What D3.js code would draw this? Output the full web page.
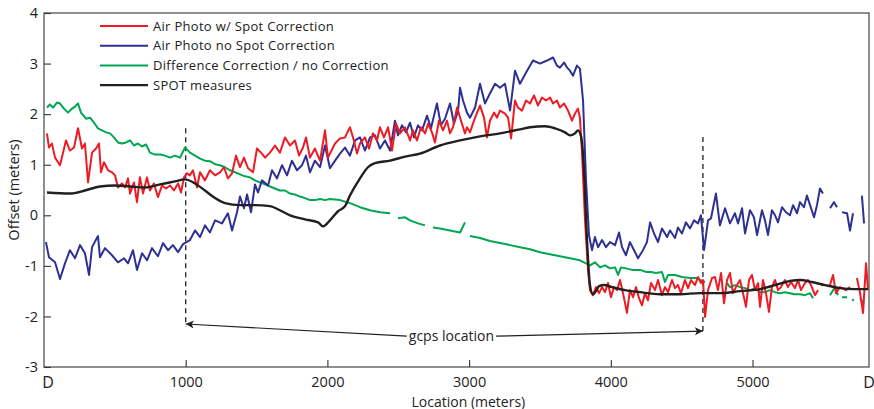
<!DOCTYPE html>
<html>
<head>
<meta charset="utf-8">
<script src="https://cdn.jsdelivr.net/npm/d3@7"></script>
<style>
  html, body { margin: 0; padding: 0; background: #fff; }
  svg { display: block; font-family: 'Open Sans', sans-serif; }
</style>
</head>
<body>
<div id="chart"></div>
<script>
// offset profile along the line (location in meters, offset in meters), null = gap
const xMax = 5822;
const yTicks = [-3, -2, -1, 0, 1, 2, 3, 4];
const xTicks = [1000, 2000, 3000, 4000, 5000];
const endLabels = [[0, 'D'], [xMax, 'D']];
const seriesNames = ['Air Photo w/ Spot Correction', 'Air Photo no Spot Correction',
  'Difference Correction / no Correction', 'SPOT measures'];
const gcpLocations = [1000, 4650];

const redPts = [[21,1.62],[35,1.34],[56,1.42],[78,1.14],[113,0.99],[155,1.48],[183,1.28],[212,1.34],[240,1.72],[268,1.32],[289,1.42],[311,0.65],[339,1.24],[367,1.32],[388,1.42],[402,0.85],[423,1.05],[452,0.89],[480,0.85],[501,0.79],[522,0.55],[550,0.63],[572,0.55],[593,0.73],[607,0.43],[635,0.65],[656,0.26],[677,0.75],[699,0.43],[727,0.75],[748,0.49],[776,0.63],[804,0.36],[833,0.59],[861,0.53],[889,0.59],[917,0.49],[946,0.63],[967,0.45],[988,0.75],[1009,0.83],[1030,0.79],[1051,0.89],[1080,0.55],[1101,0.85],[1136,0.69],[1171,0.89],[1207,0.79],[1242,0.85],[1270,0.95],[1298,0.73],[1327,0.83],[1355,1.18],[1383,0.95],[1411,1.14],[1440,0.93],[1475,0.85],[1503,1.32],[1538,1.22],[1560,1.14],[1595,1.24],[1630,1.38],[1665,1.24],[1701,1.54],[1736,1.38],[1771,1.48],[1800,1.18],[1828,1.34],[1849,1.54],[1877,1.14],[1912,1.32],[1948,1.08],[1983,1.68],[2004,1.14],[2018,1.22],[2054,1.42],[2089,1.52],[2124,1.54],[2159,1.74],[2181,1.54],[2209,1.22],[2230,1.42],[2265,1.54],[2294,1.32],[2322,1.62],[2350,1.48],[2371,1.74],[2399,1.54],[2428,1.74],[2456,1.28],[2484,1.81],[2512,1.62],[2548,1.74],[2583,1.48],[2604,1.68],[2632,1.48],[2660,1.74],[2689,1.62],[2710,1.81],[2738,1.64],[2759,1.44],[2787,1.87],[2816,1.68],[2844,1.87],[2865,1.62],[2886,1.74],[2915,2.13],[2943,1.87],[2971,1.62],[2985,1.74],[3006,1.64],[3042,1.93],[3077,2.17],[3105,1.93],[3126,1.54],[3147,1.87],[3176,2.03],[3197,1.93],[3218,2.07],[3253,2.01],[3275,1.93],[3296,1.52],[3324,2.27],[3345,2.13],[3373,2.07],[3402,2.27],[3430,2.21],[3458,2.37],[3486,2.17],[3514,2.33],[3543,2.27],[3571,2.33],[3592,2.21],[3620,2.27],[3641,2.13],[3670,2.21],[3698,2.07],[3726,1.87],[3747,2.01],[3768,2.11],[3782,1.93],[3796,1.28],[3818,-0.1],[3839,-1.08],[3853,-1.48],[3874,-1.58],[3895,-1.42],[3917,-1.54],[3938,-1.42],[3959,-1.52],[3980,-1.34],[4001,-1.62],[4022,-1.42],[4044,-1.48],[4065,-1.28],[4086,-1.54],[4114,-1.93],[4135,-1.48],[4157,-1.62],[4178,-1.42],[4199,-1.64],[4220,-1.78],[4241,-1.54],[4262,-1.68],[4284,-1.34],[4312,-1.48],[4333,-1.28],[4361,-1.58],[4382,-1.42],[4404,-1.52],[4432,-1.28],[4453,-1.44],[4474,-1.38],[4495,-1.54],[4523,-1.28],[4545,-1.44],[4566,-1.28],[4594,-1.38],[4615,-1.22],[4636,-1.34],[4651,-1.28],[4665,-2.01],[4686,-1.48],[4714,-1.24],[4735,-1.22],[4756,-1.48],[4778,-1.14],[4799,-1.74],[4820,-1.28],[4841,-1.14],[4862,-1.54],[4883,-1.42],[4912,-1.28],[4933,-1.54],[4954,-1.81],[4975,-1.28],[4996,-1.18],[5018,-1.48],[5039,-1.34],[5053,-1.81],[5074,-1.28],[5095,-1.54],[5116,-1.91],[5137,-1.42],[5159,-1.28],[5180,-1.48],[5201,-1.42],[5229,-1.28],[5250,-1.42],[5272,-1.32],[5300,-1.44],[5321,-1.28],[5342,-1.48],[5370,-1.34],[5391,-1.28],[5413,-1.38],[5441,-1.58],[5462,-1.48],null,[5488,-1.38],[5496,-1.40],null,[5547,-1.38],[5568,-1.18],[5589,-1.54],[5617,-1.42],[5660,-1.48],[5688,-1.42],null,[5737,-1.24],[5759,-1.54],[5780,-1.93],[5801,-0.95],[5815,-1.48]];

const bluePts = [[14,-0.53],[35,-0.83],[78,-0.93],[113,-1.26],[148,-0.95],[183,-0.69],[219,-0.85],[254,-0.59],[289,-0.75],[318,-1.18],[339,-0.63],[381,-0.41],[395,-0.83],[430,-0.65],[480,-0.79],[522,-0.93],[565,-0.85],[593,-0.95],[628,-0.69],[656,-1.08],[692,-0.75],[727,-0.89],[762,-0.65],[804,-0.81],[840,-0.55],[875,-0.69],[910,-0.59],[946,-0.73],[981,-0.57],[1030,-0.49],[1066,-0.3],[1101,-0.43],[1136,-0.2],[1171,-0.34],[1207,-0.1],[1256,-0.16],[1298,0.04],[1327,-0.3],[1362,0.06],[1383,0.37],[1411,0.14],[1433,0.41],[1461,0.06],[1489,0.61],[1510,0.45],[1538,0.69],[1581,0.59],[1609,0.89],[1644,0.73],[1680,0.99],[1715,0.79],[1750,1.08],[1785,0.89],[1821,0.99],[1849,1.18],[1877,0.85],[1912,1.08],[1948,0.95],[1983,1.38],[2018,0.93],[2054,1.08],[2089,1.22],[2124,1.34],[2159,1.18],[2195,1.48],[2230,1.54],[2265,1.28],[2301,1.54],[2336,1.58],[2371,1.32],[2406,1.48],[2442,1.28],[2477,1.87],[2498,1.58],[2526,1.78],[2554,1.64],[2583,1.83],[2611,1.54],[2639,1.78],[2668,1.68],[2703,1.97],[2731,1.72],[2773,2.21],[2801,1.78],[2830,1.91],[2865,2.21],[2893,1.81],[2922,2.07],[2936,2.52],[2957,2.27],[2985,2.03],[3006,1.93],[3042,2.13],[3077,2.6],[3112,2.21],[3147,2.41],[3183,2.6],[3218,2.52],[3253,2.6],[3289,2.07],[3324,2.86],[3359,2.6],[3409,2.86],[3451,3.06],[3500,3.0],[3550,3.06],[3592,3.12],[3620,2.96],[3641,2.92],[3670,3.02],[3691,2.92],[3712,2.86],[3733,2.76],[3761,2.96],[3782,2.9],[3804,2.27],[3825,0.69],[3846,-0.39],[3867,-0.69],[3888,-0.43],[3910,-0.63],[3938,-0.49],[3966,-0.63],[3994,-0.53],[4030,-0.59],[4058,-0.34],[4079,-0.63],[4107,-0.79],[4135,-0.53],[4164,-0.69],[4192,-0.85],[4227,-0.69],[4255,-0.53],[4277,-0.14],[4305,-0.36],[4333,-0.53],[4361,-0.26],[4397,-0.43],[4418,-0.3],[4453,-0.45],[4474,-0.24],[4502,-0.36],[4530,-0.14],[4559,-0.26],[4587,-0.1],[4615,-0.16],[4636,0],[4658,-0.69],[4686,-0.1],[4707,-0.06],[4742,0.43],[4770,-0.2],[4806,0.14],[4841,-0.16],[4876,0.04],[4898,-0.16],[4926,0.14],[4947,-0.36],[4982,0.1],[5010,-0.04],[5032,-0.39],[5067,0.1],[5088,-0.1],[5109,-0.39],[5137,0.1],[5159,0],[5180,-0.14],[5208,0.16],[5236,0.06],[5264,0],[5286,0.2],[5314,0.04],[5335,0.26],[5363,0.16],[5384,0.39],[5406,0.2],[5434,-0.04],[5455,0.2],[5476,0.53],[5497,0.43],null,[5547,0.14],[5575,0.26],[5596,0.16],null,[5632,0.06],[5667,0.04],[5688,-0.3],[5709,0.04],null,[5772,0.39],[5787,-0.16]];

const greenPts = [[21,2.13],[42,2.19],[64,2.13],[92,2.23],[113,2.21],[141,2.11],[169,2.03],[198,2.11],[219,2.15],[240,2.21],[261,2.03],[296,1.91],[325,1.93],[353,1.83],[381,1.72],[409,1.68],[438,1.64],[466,1.62],[494,1.54],[522,1.44],[550,1.42],[579,1.44],[607,1.48],[635,1.38],[663,1.42],[692,1.36],[720,1.4],[748,1.24],[783,1.2],[819,1.2],[854,1.18],[889,1.14],[924,1.18],[960,1.14],[995,1.34],[1030,1.24],[1066,1.18],[1101,1.12],[1136,1.08],[1171,1.07],[1207,1.01],[1242,0.99],[1277,0.95],[1313,0.89],[1348,0.85],[1383,0.81],[1418,0.77],[1454,0.75],[1489,0.69],[1524,0.65],[1560,0.61],[1595,0.57],[1630,0.53],[1665,0.49],[1701,0.49],[1736,0.43],[1771,0.41],[1807,0.37],[1842,0.34],[1877,0.3],[1912,0.3],[1948,0.32],[1983,0.3],[2018,0.32],[2054,0.31],[2089,0.3],[2124,0.27],[2159,0.24],[2195,0.2],[2230,0.16],[2265,0.13],[2301,0.1],[2336,0.08],[2371,0.06],[2406,0.05],[2442,0.04],null,[2498,-0.06],[2548,-0.04],[2583,-0.1],[2639,-0.16],[2689,-0.2],null,[2745,-0.24],[2795,-0.26],[2865,-0.3],[2936,-0.34],[2971,-0.14],null,[3006,-0.41],[3077,-0.45],[3147,-0.51],[3218,-0.55],[3289,-0.59],[3359,-0.63],[3430,-0.67],[3500,-0.73],[3571,-0.77],[3641,-0.81],[3712,-0.85],[3782,-0.89],[3853,-0.99],[3888,-0.93],[3924,-1.03],[3959,-0.99],[3994,-1.05],[4030,-1.03],[4051,-1.18],[4072,-1.03],[4107,-1.05],[4150,-1.08],[4206,-1.08],[4248,-1.12],[4284,-1.12],[4319,-1.14],[4361,-1.12],[4382,-1.32],[4404,-1.18],[4453,-1.18],[4502,-1.22],[4559,-1.24],[4608,-1.24],[4629,-1.28],[4665,-1.32],null,[4820,-1.34],[4841,-1.42],[4876,-1.38],[4912,-1.42],[4947,-1.44],[4982,-1.48],[5018,-1.44],[5053,-1.52],[5088,-1.52],[5123,-1.48],[5159,-1.52],[5194,-1.54],[5229,-1.52],[5264,-1.54],[5293,-1.56],[5335,-1.56],[5370,-1.58],[5406,-1.54],[5427,-1.64],null,[5547,-1.58],[5582,-1.42],[5603,-1.58],null,[5632,-1.62],[5667,-1.62],null,[5703,-1.66],[5715,-1.69],null,[5759,-1.64],[5787,-1.74]];

const spotPts = [[21,0.45],[183,0.43],[289,0.49],[395,0.57],[501,0.59],[607,0.57],[713,0.55],[819,0.61],[924,0.67],[995,0.71],[1066,0.63],[1136,0.49],[1207,0.34],[1277,0.24],[1383,0.2],[1489,0.2],[1595,0.18],[1665,0.1],[1736,0],[1842,-0.08],[1934,-0.14],[1969,-0.22],[2018,-0.1],[2075,0.08],[2124,0.18],[2159,0.39],[2230,0.73],[2286,0.95],[2336,1.03],[2442,1.08],[2548,1.16],[2653,1.22],[2795,1.38],[2936,1.48],[3077,1.56],[3218,1.62],[3359,1.7],[3430,1.74],[3536,1.76],[3606,1.72],[3677,1.64],[3712,1.58],[3747,1.62],[3768,1.68],[3790,1.56],[3811,0.89],[3832,-0.49],[3853,-1.38],[3874,-1.56],[3895,-1.5],[3917,-1.4],[3952,-1.38],[4008,-1.42],[4100,-1.48],[4206,-1.52],[4347,-1.56],[4488,-1.56],[4629,-1.54],[4770,-1.54],[4912,-1.5],[5053,-1.46],[5159,-1.38],[5264,-1.3],[5335,-1.28],[5420,-1.32],[5511,-1.38],[5617,-1.44],[5723,-1.46],[5815,-1.46]];

const colors = ['#ed1c24', '#2e3192', '#00a651', '#231f20'];

const W = 874, H = 409;
const margin = { left: 44, right: 5, top: 13, bottom: 42 };

const svg = d3.select('#chart').append('svg')
  .attr('width', W)
  .attr('height', H);

const x = d3.scaleLinear().domain([0, xMax]).range([margin.left, W - margin.right]);
const y = d3.scaleLinear().domain([-3, 4]).range([H - margin.bottom, margin.top]);

// box
svg.append('rect')
  .attr('x', x(0)).attr('y', y(4))
  .attr('width', x(xMax) - x(0)).attr('height', y(-3) - y(4))
  .attr('fill', 'none').attr('stroke', '#333').attr('stroke-width', 1.1);

// axes, ticks pointing inward
const yAxis = svg.append('g')
  .attr('transform', `translate(${x(0)},0)`)
  .call(d3.axisLeft(y).tickValues(yTicks).tickSize(-7).tickPadding(6).tickFormat(d => String(d)));
const xAxis = svg.append('g')
  .attr('transform', `translate(0,${y(-3)})`)
  .call(d3.axisBottom(x).tickValues(xTicks).tickSize(-7).tickPadding(10).tickFormat(d => String(d)));

[yAxis, xAxis].forEach(g => {
  g.select('.domain').remove();
  g.selectAll('line').attr('stroke', '#333').attr('stroke-width', 1.1);
  g.selectAll('text').attr('fill', '#222').style('font-size', '14.5px').style('font-family', "'Open Sans', sans-serif");
});

svg.append('g').selectAll('text')
  .data(endLabels)
  .enter().append('text')
  .attr('x', d => x(d[0]) + (d[0] === 0 ? 4 : 0))
  .attr('y', y(-3) + 21)
  .attr('text-anchor', 'middle')
  .attr('fill', '#222')
  .style('font-size', '16px')
  .text(d => d[1]);

// axis labels
svg.append('text')
  .attr('x', x(2995)).attr('y', H - 2.5)
  .attr('text-anchor', 'middle')
  .attr('fill', '#222')
  .style('font-size', '14px')
  .text('Location (meters)');

svg.append('text')
  .attr('transform', `translate(19,${y(0.5)}) rotate(-90)`)
  .attr('text-anchor', 'middle')
  .attr('fill', '#222')
  .style('font-size', '14.5px')
  .text('Offset (meters)');

// gcp dashed markers
const gcpTop = [1.72, 1.55];
const gcpBottom = [-2.2, -2.35];
svg.append('g').selectAll('line')
  .data(gcpLocations)
  .enter().append('line')
  .attr('x1', d => x(d)).attr('x2', d => x(d))
  .attr('y1', (d, i) => y(gcpTop[i]))
  .attr('y2', (d, i) => y(gcpBottom[i]))
  .attr('stroke', '#231f20')
  .attr('stroke-width', 1.3)
  .attr('stroke-dasharray', '5,4');

// data lines
const line = d3.line()
  .defined(d => d !== null)
  .x(d => x(d[0]))
  .y(d => y(d[1]));

const spotLine = d3.line()
  .x(d => x(d[0]))
  .y(d => y(d[1]))
  .curve(d3.curveMonotoneX);

svg.append('path').datum(greenPts)
  .attr('d', line).attr('fill', 'none')
  .attr('stroke', colors[2]).attr('stroke-width', 2).attr('stroke-linejoin', 'round');
svg.append('path').datum(bluePts)
  .attr('d', line).attr('fill', 'none')
  .attr('stroke', colors[1]).attr('stroke-width', 2).attr('stroke-linejoin', 'round');
svg.append('path').datum(redPts)
  .attr('d', line).attr('fill', 'none')
  .attr('stroke', colors[0]).attr('stroke-width', 2).attr('stroke-linejoin', 'round');
svg.append('path').datum(spotPts)
  .attr('d', spotLine).attr('fill', 'none')
  .attr('stroke', colors[3]).attr('stroke-width', 2.4).attr('stroke-linejoin', 'round');

// gcps location annotation
const defs = svg.append('defs');
defs.append('marker')
  .attr('id', 'arrow')
  .attr('viewBox', '0 0 10 10')
  .attr('refX', 10).attr('refY', 5)
  .attr('markerWidth', 10).attr('markerHeight', 8)
  .attr('markerUnits', 'userSpaceOnUse')
  .attr('orient', 'auto')
  .append('path')
  .attr('d', 'M0,0 L10,5 L0,10 L2.5,5 Z')
  .attr('fill', '#231f20');

const arrows = [
  [[2560, -2.39], [1000, -2.15]],
  [[3190, -2.39], [4650, -2.29]]
];
svg.append('g').selectAll('line')
  .data(arrows)
  .enter().append('line')
  .attr('x1', d => x(d[0][0])).attr('y1', d => y(d[0][1]))
  .attr('x2', d => x(d[1][0])).attr('y2', d => y(d[1][1]))
  .attr('stroke', '#231f20')
  .attr('stroke-width', 1.2)
  .attr('marker-end', 'url(#arrow)');

svg.append('text')
  .attr('x', x(2875)).attr('y', y(-2.39) + 5)
  .attr('text-anchor', 'middle')
  .attr('fill', '#222')
  .style('font-size', '14px')
  .text('gcps location');

// legend
const legend = svg.append('g').attr('transform', 'translate(100,26)');
seriesNames.forEach((name, i) => {
  const row = legend.append('g').attr('transform', `translate(0,${i * 19.7})`);
  row.append('line')
    .attr('x1', 0).attr('x2', 48)
    .attr('stroke', colors[i])
    .attr('stroke-width', i === 3 ? 2.4 : 2);
  row.append('text')
    .attr('x', 53).attr('y', 4.5)
    .attr('fill', '#222')
    .style('font-size', '13px')
    .style('letter-spacing', '0.3px')
    .text(name);
});
</script>
</body>
</html>
